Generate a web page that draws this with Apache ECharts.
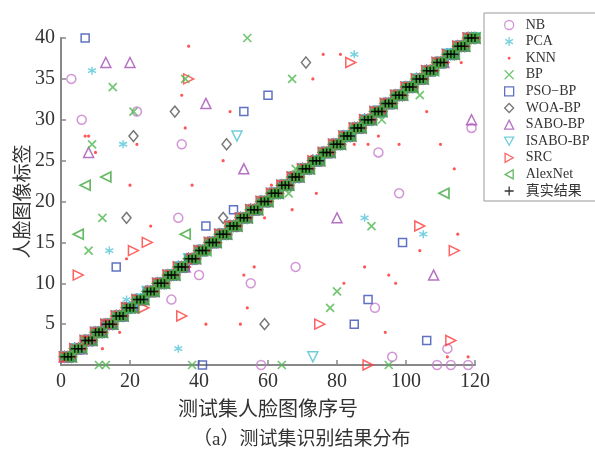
<!DOCTYPE html>
<html>
<head>
<meta charset="utf-8">
<style>
  html, body { margin: 0; padding: 0; background: #fff; }
  #chart { width: 595px; height: 450px; }
</style>
<script src="https://cdn.jsdelivr.net/npm/echarts@6/dist/echarts.min.js"></script>
</head>
<body>
<div id="chart"></div>
<script>
// 真实标签：120 张测试图像，每类 3 张
const trueLabels = [
  1, 1, 1, 2, 2, 2, 3, 3, 3, 4, 4, 4, 5, 5, 5, 6, 6, 6, 7, 7, 7, 8, 8, 8,
  9, 9, 9, 10, 10, 10, 11, 11, 11, 12, 12, 12, 13, 13, 13, 14, 14, 14, 15, 15, 15, 16, 16, 16,
  17, 17, 17, 18, 18, 18, 19, 19, 19, 20, 20, 20, 21, 21, 21, 22, 22, 22, 23, 23, 23, 24, 24, 24,
  25, 25, 25, 26, 26, 26, 27, 27, 27, 28, 28, 28, 29, 29, 29, 30, 30, 30, 31, 31, 31, 32, 32, 32,
  33, 33, 33, 34, 34, 34, 35, 35, 35, 36, 36, 36, 37, 37, 37, 38, 38, 38, 39, 39, 39, 40, 40, 40
]

// 各方法识别错误的样本 [序号, 预测标签]
const nbErrors = [[3, 35], [6, 30], [22, 31], [35, 27], [34, 18], [40, 11], [32, 8], [92, 26], [98, 21],
  [119, 29], [68, 12], [55, 10], [91, 7], [96, 1], [112, 2], [58, 0], [109, 0], [113, 0], [118, 0]]
const pcaErrors = [[9, 36], [18, 27], [85, 38], [14, 14], [19, 8], [34, 2], [88, 18], [105, 16]]
const knnErrors = [[7, 28], [8, 28], [10, 26], [22, 27], [20, 22], [38, 22], [37, 39], [35, 33], [36, 29],
  [76, 38], [81, 38], [73, 35], [49, 31], [47, 25], [61, 22], [92, 28], [85, 27], [89, 27], [98, 27],
  [74, 21], [116, 37], [106, 31], [110, 27], [114, 24], [26, 17], [19, 13], [17, 4], [12, 2], [67, 19],
  [59, 18], [56, 12], [53, 11], [88, 12], [82, 10], [95, 11], [97, 10], [54, 7], [42, 5], [52, 5],
  [94, 4], [115, 16], [104, 14], [112, 1], [118, 1]]
const bpErrors = [[15, 34], [21, 31], [9, 27], [36, 35], [54, 40], [67, 35], [66, 21], [68, 24], [93, 30],
  [104, 33], [12, 18], [8, 14], [90, 17], [80, 9], [78, 7], [11, 0], [13, 0], [38, 0], [64, 0], [95, 0]]
const psoErrors = [[7, 40], [60, 33], [53, 31], [50, 19], [42, 17], [16, 12], [99, 15], [89, 8], [85, 5],
  [106, 3], [41, 0]]
const woaErrors = [[33, 31], [21, 28], [71, 37], [48, 27], [19, 18], [47, 18], [59, 5]]
const saboErrors = [[13, 37], [20, 37], [8, 26], [42, 32], [53, 24], [119, 30], [80, 18], [108, 11]]
const isaboErrors = [[51, 28], [73, 1]]
const srcErrors = [[37, 35], [84, 37], [21, 14], [25, 15], [5, 11], [24, 7], [35, 6], [75, 5], [89, 0],
  [104, 17], [114, 14], [113, 3]]
const alexErrors = [[7, 22], [13, 23], [5, 16], [36, 16], [111, 21]]

const xTicks = [0, 20, 40, 60, 80, 100, 120]
const yTicks = [5, 10, 15, 20, 25, 30, 35, 40]

// 标记形状
const SYM_X = 'path://M0,0L10,10M0,10L10,0'
const SYM_STAR = 'path://M5,0L5,10M0.7,2.5L9.3,7.5M0.7,7.5L9.3,2.5'
const SYM_PLUS = 'path://M5,0L5,10M0,5L10,5'
const SYM_DOT = 'path://M0,0L0.01,0M10,10L9.99,10M5,3.4A1.6,1.6,0,1,1,5,6.6A1.6,1.6,0,1,1,5,3.4Z'
const SYM_DOWN = 'path://M0,0L10,0L5,9Z'
const SYM_RIGHT = 'path://M0,0L9,5L0,10Z'
const SYM_LEFT = 'path://M9,0L0,5L9,10Z'

// 用真实标签加上错误样本得到每种方法的预测结果
function predictions (errors) {
  let pred = trueLabels.slice()
  errors.forEach(e => { pred[e[0] - 1] = e[1] })
  return pred.map((v, i) => [i + 1, v])
}

function hollow (name, errors, symbol, size, color, width, z) {
  return {
    name: name,
    type: 'scatter',
    z: z || 2,
    symbol: symbol,
    symbolSize: size,
    itemStyle: { color: 'rgba(255,255,255,0)', borderColor: color, borderWidth: width || 1.5 },
    data: predictions(errors)
  }
}

const font = "'Liberation Serif', 'Noto Sans CJK SC', serif"

let seriesData = [
  hollow('NB', nbErrors, 'circle', 9, '#c77ccc'),
  hollow('PCA', pcaErrors, SYM_STAR, 8, '#58c6d8'),
  {
    name: 'KNN',
    type: 'scatter',
    symbol: SYM_DOT,
    symbolSize: 10,
    itemStyle: { color: '#ff2a2a' },
    data: predictions(knnErrors)
  },
  hollow('BP', bpErrors, SYM_X, 8, '#50b850', 1.7, 3),
  hollow('PSO−BP', psoErrors, 'rect', 8, '#3a4fb5'),
  hollow('WOA-BP', woaErrors, 'diamond', [9, 11], '#555555'),
  hollow('SABO-BP', saboErrors, 'triangle', 10, '#a44fb4'),
  hollow('ISABO-BP', isaboErrors, SYM_DOWN, 10, '#4cc0d0'),
  hollow('SRC', srcErrors, SYM_RIGHT, 10, '#ff3b3b'),
  hollow('AlexNet', alexErrors, SYM_LEFT, 10, '#3ea83e', 1.7, 3),
  hollow('真实结果', [], SYM_PLUS, 8, '#000', 1.5, 4)
]

let option = {
  animation: false,
  title: {
    text: '（a）测试集识别结果分布',
    left: 188,
    top: 426,
    textStyle: { fontFamily: font, fontSize: 19, fontWeight: 'normal', color: '#333' }
  },
  grid: { left: 61, right: 120, top: 38, bottom: 85, containLabel: false, outerBoundsMode: 'none' },
  legend: {
    orient: 'vertical',
    left: 484,
    top: 13,
    padding: [5, 40, 3, 20],
    itemGap: 2.6,
    itemWidth: 9,
    itemHeight: 9,
    borderColor: '#999',
    borderWidth: 1,
    backgroundColor: '#fff',
    itemStyle: { borderWidth: 1.3 },
    textStyle: { fontFamily: font, fontSize: 14, lineHeight: 14, color: '#333', padding: [0, 0, 0, 7] },
    data: seriesData.map(s => s.name)
  },
  xAxis: {
    type: 'value',
    min: 0,
    max: 120,
    interval: 20,
    name: '测试集人脸图像序号',
    nameLocation: 'middle',
    nameGap: 36,
    nameMoveOverlap: false,
    nameTextStyle: { fontFamily: font, fontSize: 20, color: '#333' },
    axisLine: { lineStyle: { color: '#888', width: 2 } },
    axisTick: { inside: true, length: 5, lineStyle: { color: '#888', width: 1.5 } },
    axisLabel: {
      fontFamily: font, fontSize: 20, color: '#333', margin: 7,
      formatter: v => xTicks.indexOf(v) >= 0 ? String(v) : ''
    },
    splitLine: { show: false }
  },
  yAxis: {
    type: 'value',
    min: 0,
    max: 40,
    interval: 5,
    name: '人脸图像标签',
    nameLocation: 'middle',
    nameGap: 27,
    nameMoveOverlap: false,
    nameRotate: 90,
    nameTextStyle: { fontFamily: font, fontSize: 19, color: '#333' },
    axisLine: { show: true, lineStyle: { color: '#888', width: 2 } },
    axisTick: { show: true, inside: true, length: 5, lineStyle: { color: '#888', width: 1.5 } },
    axisLabel: {
      fontFamily: font, fontSize: 20, color: '#333', margin: 6,
      formatter: v => yTicks.indexOf(v) >= 0 ? String(v) : ''
    },
    splitLine: { show: false }
  },
  series: seriesData
}

let myChart = echarts.init(document.getElementById('chart'))
myChart.setOption(option, true)
</script>
</body>
</html>
